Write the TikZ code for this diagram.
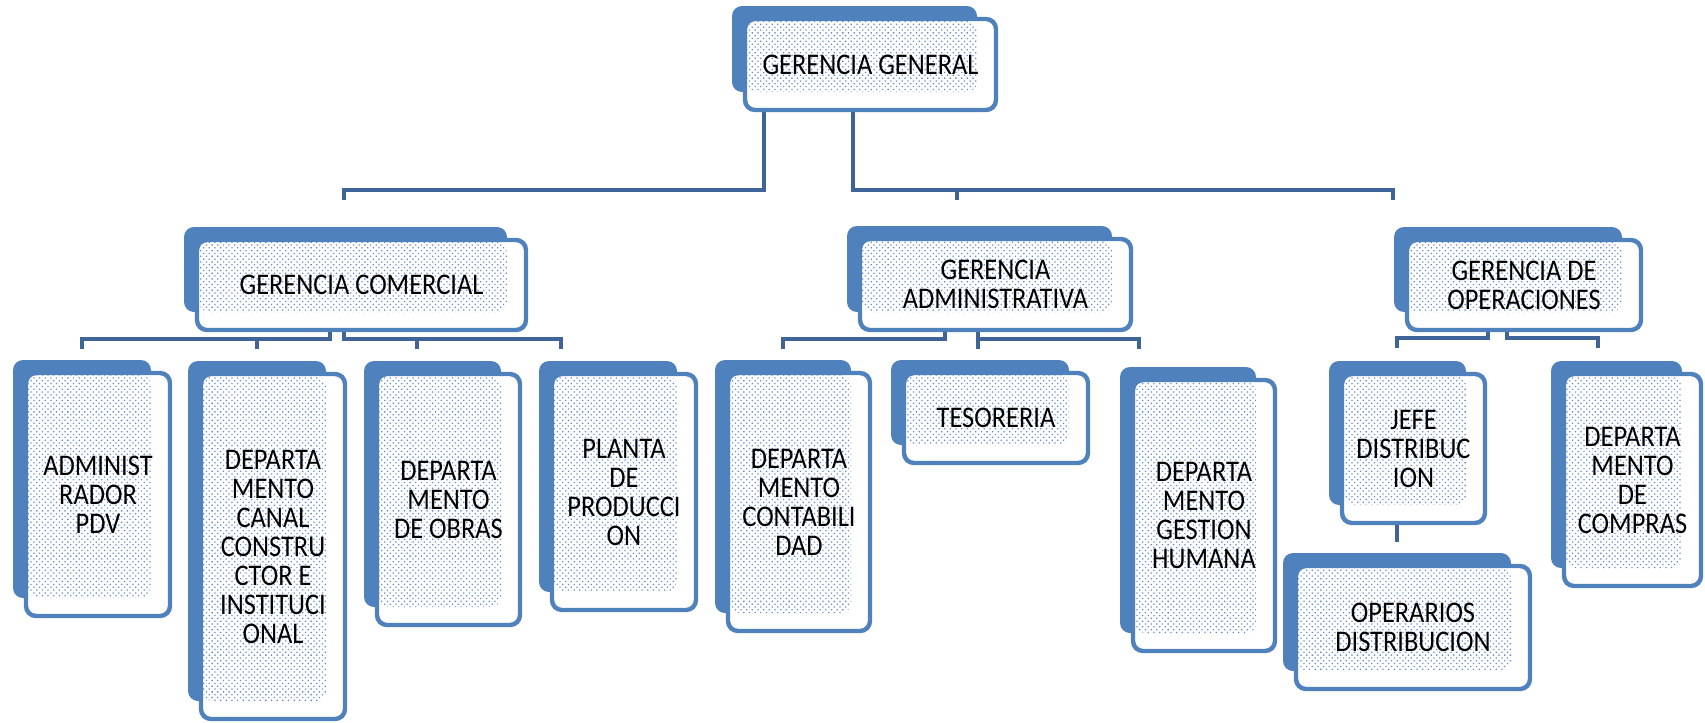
\documentclass[tikz,border=0pt]{standalone}
\usepackage{fontspec}
\setmainfont{Carlito}[FakeStretch=0.88]
\usepackage{tikz}
\usetikzlibrary{patterns.meta,calc}
\definecolor{azul}{RGB}{79,129,189}
\definecolor{azulosc}{RGB}{62,100,152}
\definecolor{puntos}{RGB}{100,140,205}
\newcommand{\cargo}[6]{%
  \fill[fondo] (#2-11,#3-11) rectangle (#4-21,#5-20);
  \node[cuadro,minimum width={(#4-#2-4)*0.5pt},minimum height={(#5-#3-4)*0.5pt}] (#1) at ({(#2+#4)/2},{(#3+#5)/2}) {#6};}

\begin{document}
\begin{tikzpicture}[x=0.5pt,y=-0.5pt,
  fondo/.style={fill=azul,rounded corners=5pt},
  cuadro/.style={draw=azul,line width=2.2pt,fill=white,rounded corners=5pt,inner sep=0pt,align=center,
    font=\fontsize{15}{14.5}\selectfont,
    path picture={\fill[pattern={Dots[distance=2pt,radius=0.45pt,angle=45]},pattern color=puntos]
      ($(path picture bounding box.north west)+(1pt,-1pt)$) rectangle ($(path picture bounding box.south east)+(-9.5pt,9pt)$);}},
  linea/.style={draw=azulosc,line width=2.4pt}]
\useasboundingbox (0,0) rectangle (1705,723);

\cargo{gg}{743}{17}{998}{112}{GERENCIA GENERAL}
\cargo{gc}{195}{238}{528}{332}{GERENCIA COMERCIAL}
\cargo{ga}{858}{237}{1133}{332}{GERENCIA\\ADMINISTRATIVA}
\cargo{go}{1405}{238}{1643}{332}{GERENCIA DE\\OPERACIONES}
\cargo{pdv}{24}{371}{172}{618}{ADMINIST\\RADOR\\PDV}
\cargo{canal}{199}{372}{347}{721}{DEPARTA\\MENTO\\CANAL\\CONSTRU\\CTOR E\\INSTITUCI\\ONAL}
\cargo{obras}{375}{372}{522}{627}{DEPARTA\\MENTO\\DE OBRAS}
\cargo{planta}{550}{372}{698}{612}{PLANTA\\DE\\PRODUCCI\\ON}
\cargo{conta}{726}{371}{872}{633}{DEPARTA\\MENTO\\CONTABILI\\DAD}
\cargo{teso}{902}{371}{1090}{465}{TESORERIA}
\cargo{humana}{1131}{378}{1277}{653}{DEPARTA\\MENTO\\GESTION\\HUMANA}
\cargo{jefe}{1340}{372}{1487}{525}{JEFE\\DISTRIBUC\\ION}
\cargo{compras}{1562}{372}{1703}{588}{DEPARTA\\MENTO\\DE\\COMPRAS}
\cargo{operarios}{1294}{564}{1532}{691}{OPERARIOS\\DISTRIBUCION}

% gerencia general
\coordinate (gg-l) at (764,190); \coordinate (gg-r) at (853,190);
\coordinate (gg-a) at (344,200); \coordinate (gg-b) at (957,200); \coordinate (gg-c) at (1393,200);
\draw[linea] (gg.south -| gg-l) -- (gg-l) -| (gg-a);
\draw[linea] (gg.south -| gg-r) -- (gg-r) -| (gg-c);
\draw[linea] (gg-b |- gg-r) -- (gg-b);

% comercial
\coordinate (gc-l) at (330,339); \coordinate (gc-r) at (344,339);
\coordinate (gc-a) at (82,349); \coordinate (gc-b) at (257,349);
\coordinate (gc-c) at (417,349); \coordinate (gc-d) at (561,349);
\draw[linea] (gc.south -| gc-l) -- (gc-l) -| (gc-a);
\draw[linea] (gc.south -| gc-r) -- (gc-r) -| (gc-d);
\draw[linea] (gc-b |- gc-l) -- (gc-b);
\draw[linea] (gc-c |- gc-r) -- (gc-c);

% administrativa
\coordinate (ga-l) at (945,339); \coordinate (ga-r) at (978,339);
\coordinate (ga-a) at (783,349); \coordinate (ga-b) at (978,349); \coordinate (ga-c) at (1139,349);
\draw[linea] (ga.south -| ga-l) -- (ga-l) -| (ga-a);
\draw[linea] (ga.south -| ga-r) -- (ga-b);
\draw[linea] (ga-r) -| (ga-c);

% operaciones
\coordinate (go-l) at (1488,338); \coordinate (go-r) at (1507,338);
\coordinate (go-a) at (1397,348); \coordinate (go-b) at (1598,348);
\draw[linea] (go.south -| go-l) -- (go-l) -| (go-a);
\draw[linea] (go.south -| go-r) -- (go-r) -| (go-b);
\coordinate (jefe-a) at (1397,542);
\draw[linea] (jefe.south -| jefe-a) -- (jefe-a);
\end{tikzpicture}
\end{document}
